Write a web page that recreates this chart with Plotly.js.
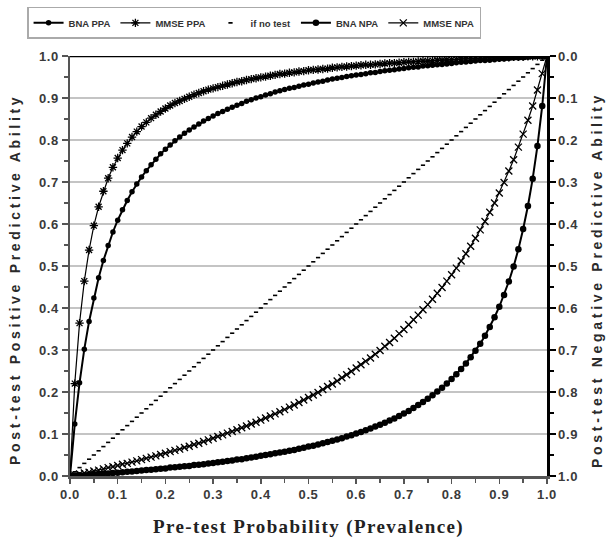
<!DOCTYPE html>
<html>
<head>
<meta charset="utf-8">
<script src="https://cdn.plot.ly/plotly-3.0.1.min.js"></script>
<style>
html,body{margin:0;padding:0;background:#fff;}
#chart{width:607px;height:549px;}
.xtick text, .ytick text, .y2tick text { letter-spacing: 0.6px; }
.annotation-text { letter-spacing: 3.7px; }
.g-xtitle text { letter-spacing: 1.4px; }
</style>
</head>
<body>
<div id="chart"></div>
<script>
const prevalence = [0,0.01,0.02,0.03,0.04,0.05,0.06,0.07,0.08,0.09,0.10,0.11,0.12,0.13,0.14,0.15,0.16,0.17,0.18,0.19,0.20,0.21,0.22,0.23,0.24,0.25,0.26,0.27,0.28,0.29,0.30,0.31,0.32,0.33,0.34,0.35,0.36,0.37,0.38,0.39,0.40,0.41,0.42,0.43,0.44,0.45,0.46,0.47,0.48,0.49,0.50,0.51,0.52,0.53,0.54,0.55,0.56,0.57,0.58,0.59,0.60,0.61,0.62,0.63,0.64,0.65,0.66,0.67,0.68,0.69,0.70,0.71,0.72,0.73,0.74,0.75,0.76,0.77,0.78,0.79,0.80,0.81,0.82,0.83,0.84,0.85,0.86,0.87,0.88,0.89,0.90,0.91,0.92,0.93,0.94,0.95,0.96,0.97,0.98,0.99,1.00];

const bnaPPA = [0,0.124,0.222,0.302,0.368,0.424,0.472,0.513,0.549,0.581,0.609,0.634,0.656,0.677,0.695,0.712,0.727,0.741,0.754,0.767,0.778,0.788,0.798,0.807,0.816,0.824,0.831,0.838,0.845,0.851,0.857,0.863,0.868,0.873,0.878,0.883,0.887,0.892,0.896,0.900,0.903,0.907,0.910,0.914,0.917,0.920,0.923,0.925,0.928,0.931,0.933,0.936,0.938,0.940,0.943,0.945,0.947,0.949,0.951,0.953,0.955,0.956,0.958,0.960,0.961,0.963,0.965,0.966,0.967,0.969,0.970,0.972,0.973,0.974,0.976,0.977,0.978,0.979,0.980,0.981,0.982,0.984,0.985,0.986,0.987,0.988,0.989,0.989,0.990,0.991,0.992,0.993,0.994,0.995,0.995,0.996,0.997,0.998,0.999,0.999,1.000];

const mmsePPA = [0,0.220,0.364,0.464,0.538,0.596,0.641,0.678,0.709,0.735,0.757,0.776,0.792,0.807,0.820,0.832,0.842,0.852,0.860,0.868,0.875,0.882,0.888,0.893,0.898,0.903,0.908,0.912,0.916,0.920,0.923,0.926,0.929,0.932,0.935,0.938,0.940,0.943,0.945,0.947,0.949,0.951,0.953,0.955,0.957,0.958,0.960,0.961,0.963,0.964,0.966,0.967,0.968,0.969,0.970,0.972,0.973,0.974,0.975,0.976,0.977,0.978,0.979,0.979,0.980,0.981,0.982,0.983,0.983,0.984,0.985,0.986,0.986,0.987,0.988,0.988,0.989,0.990,0.990,0.991,0.991,0.992,0.993,0.993,0.994,0.994,0.995,0.995,0.996,0.996,0.996,0.997,0.997,0.998,0.998,0.998,0.999,0.999,0.999,1.000,1.000];

const ifNoTest = [0,0.01,0.02,0.03,0.04,0.05,0.06,0.07,0.08,0.09,0.10,0.11,0.12,0.13,0.14,0.15,0.16,0.17,0.18,0.19,0.20,0.21,0.22,0.23,0.24,0.25,0.26,0.27,0.28,0.29,0.30,0.31,0.32,0.33,0.34,0.35,0.36,0.37,0.38,0.39,0.40,0.41,0.42,0.43,0.44,0.45,0.46,0.47,0.48,0.49,0.50,0.51,0.52,0.53,0.54,0.55,0.56,0.57,0.58,0.59,0.60,0.61,0.62,0.63,0.64,0.65,0.66,0.67,0.68,0.69,0.70,0.71,0.72,0.73,0.74,0.75,0.76,0.77,0.78,0.79,0.80,0.81,0.82,0.83,0.84,0.85,0.86,0.87,0.88,0.89,0.90,0.91,0.92,0.93,0.94,0.95,0.96,0.97,0.98,0.99,1.00];

const bnaNPA = [1.000,0.999,0.998,0.998,0.997,0.996,0.995,0.994,0.994,0.993,0.992,0.991,0.990,0.989,0.988,0.987,0.986,0.985,0.984,0.983,0.982,0.980,0.979,0.978,0.977,0.976,0.974,0.973,0.972,0.970,0.969,0.967,0.966,0.964,0.963,0.961,0.960,0.958,0.956,0.954,0.952,0.950,0.948,0.946,0.944,0.942,0.940,0.938,0.935,0.933,0.930,0.928,0.925,0.922,0.919,0.916,0.913,0.910,0.906,0.903,0.899,0.895,0.891,0.887,0.882,0.878,0.873,0.868,0.863,0.857,0.851,0.845,0.838,0.831,0.824,0.816,0.808,0.799,0.790,0.780,0.769,0.758,0.745,0.732,0.717,0.702,0.685,0.666,0.645,0.622,0.597,0.569,0.537,0.501,0.460,0.412,0.357,0.292,0.214,0.119,0];

const mmseNPA = [1.000,0.998,0.995,0.993,0.991,0.988,0.986,0.983,0.980,0.978,0.975,0.972,0.970,0.967,0.964,0.961,0.958,0.955,0.952,0.949,0.946,0.942,0.939,0.936,0.932,0.929,0.925,0.922,0.918,0.914,0.910,0.906,0.902,0.898,0.894,0.890,0.885,0.881,0.876,0.872,0.867,0.862,0.857,0.852,0.847,0.842,0.836,0.831,0.825,0.819,0.813,0.807,0.801,0.794,0.787,0.781,0.774,0.766,0.759,0.751,0.743,0.735,0.727,0.719,0.710,0.701,0.691,0.682,0.672,0.661,0.651,0.640,0.628,0.617,0.604,0.592,0.579,0.565,0.551,0.536,0.521,0.505,0.488,0.471,0.453,0.434,0.414,0.394,0.372,0.350,0.326,0.301,0.274,0.247,0.217,0.186,0.153,0.119,0.081,0.042,0];

const tickVals = [0,0.1,0.2,0.3,0.4,0.5,0.6,0.7,0.8,0.9,1.0];

const tickFont = {family:'Arial, "Liberation Sans", sans-serif', size:13, color:'#3a3a3a', weight:'bold'};
const axTitleFont = {family:'Arial, "Liberation Sans", sans-serif', size:14, color:'#2a2a2a', weight:'bold'};

const traces = [
  {x:prevalence, y:bnaPPA, name:'BNA PPA', type:'scatter', mode:'lines+markers',
   line:{color:'#000', width:2}, marker:{symbol:'circle', size:5.5, color:'#000'}},
  {x:prevalence, y:mmsePPA, name:'MMSE PPA', type:'scatter', mode:'lines+markers',
   line:{color:'#000', width:1.2}, marker:{symbol:'asterisk-open', size:7, color:'#000', line:{width:1.3, color:'#000'}}},
  {x:prevalence, y:ifNoTest, name:'if no test', type:'scatter', mode:'markers',
   marker:{symbol:'line-ew-open', size:3, color:'#000', line:{width:1.6, color:'#000'}}},
  {x:prevalence, y:bnaNPA, name:'BNA NPA', type:'scatter', mode:'lines+markers', yaxis:'y2',
   line:{color:'#000', width:2}, marker:{symbol:'circle', size:6.5, color:'#000'}},
  {x:prevalence, y:mmseNPA, name:'MMSE NPA', type:'scatter', mode:'lines+markers', yaxis:'y2',
   line:{color:'#000', width:1.2}, marker:{symbol:'x-thin-open', size:7, color:'#000', line:{width:1.3, color:'#000'}}}
];

const layout = {
  width:607, height:549,
  margin:{l:70, r:60, t:56, b:73, pad:0, autoexpand:false},
  paper_bgcolor:'#fff', plot_bgcolor:'#fff',
  showlegend:true,
  legend:{orientation:'h', x:-0.09, y:1.117, xref:'paper', yref:'paper', xanchor:'left', yanchor:'top',
    bgcolor:'#fff', bordercolor:'#aaa', borderwidth:1.5,
    font:{family:'Arial, "Liberation Sans", sans-serif', size:9.5, color:'#333', weight:'bold'},
    itemwidth:30, tracegroupgap:0},
  xaxis:{range:[0,1], tickvals:tickVals, tickformat:'.1f', ticks:'outside', ticklen:5, tickwidth:1.5, tickcolor:'#555',
    minor:{dtick:0.05, ticks:'outside', ticklen:4, tickwidth:1.5, tickcolor:'#555'},
    showline:true, linecolor:'#555', linewidth:2.5, showgrid:false, zeroline:false,
    tickfont:tickFont,
    title:{text:'Pre-test Probability (Prevalence)', standoff:19,
      font:{family:'"Times New Roman", "Liberation Serif", serif', size:19, color:'#222', weight:'bold'}}},
  yaxis:{range:[0,1], tickvals:tickVals, tickformat:'.1f', ticks:'outside', ticklen:6, tickwidth:1.5, tickcolor:'#555',
    minor:{dtick:0.05, ticks:'outside', ticklen:4, tickwidth:1.5, tickcolor:'#555', showgrid:false},
    showline:true, linecolor:'#555', linewidth:2.5, showgrid:true, gridcolor:'#c4c4c4', gridwidth:1.5, zeroline:false,
    tickfont:tickFont},
  yaxis2:{range:[1,0], overlaying:'y', side:'right', tickvals:tickVals, tickformat:'.1f', ticks:'outside', ticklen:6, tickwidth:1.5, tickcolor:'#000',
    minor:{dtick:0.05, ticks:'outside', ticklen:4, tickwidth:1.5, tickcolor:'#000', showgrid:false},
    showline:true, linecolor:'#000', linewidth:2.5, showgrid:false, zeroline:false,
    tickfont:tickFont},
  annotations:[
    {text:'Post-test Positive Predictive Ability', xref:'paper', yref:'paper', x:-0.1153, y:0.4667,
     xanchor:'center', yanchor:'middle', textangle:-90, showarrow:false, font:axTitleFont},
    {text:'Post-test Negative Predictive Ability', xref:'paper', yref:'paper', x:1.1048, y:0.4667,
     xanchor:'center', yanchor:'middle', textangle:-90, showarrow:false, font:axTitleFont}
  ],
  shapes:[{type:'line', xref:'paper', yref:'y', x0:0, x1:1, y0:1, y1:1, line:{color:'#000', width:2.5}}]
};

Plotly.newPlot('chart', traces, layout, {displayModeBar:false, staticPlot:true});
</script>
</body>
</html>
